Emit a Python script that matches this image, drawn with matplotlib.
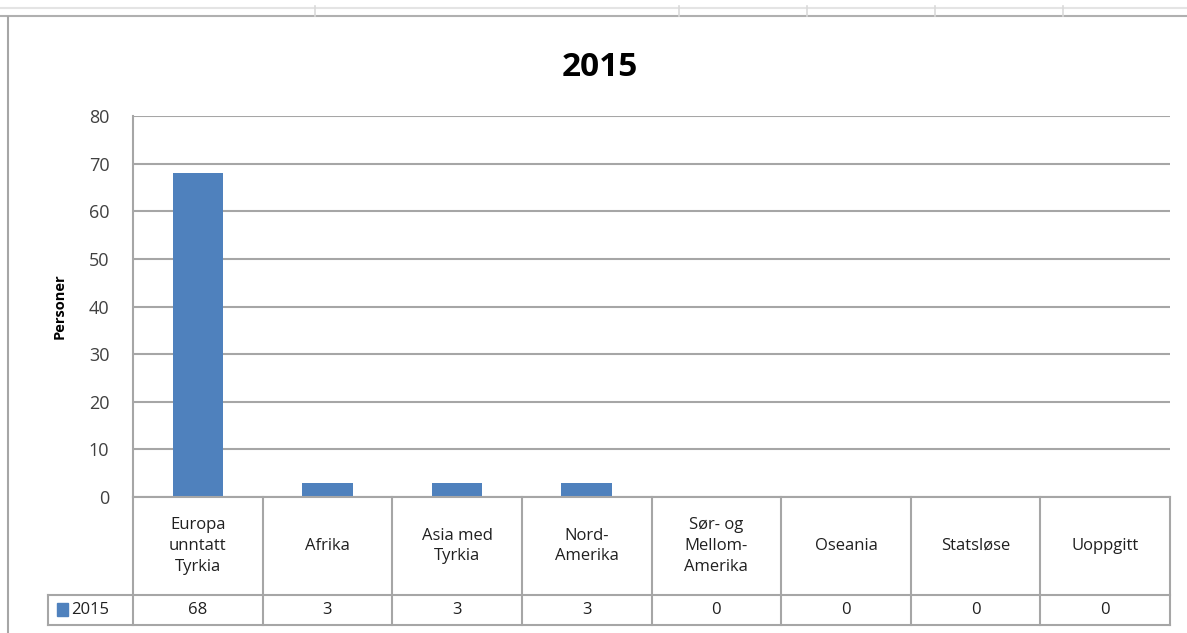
import matplotlib.pyplot as plt
from matplotlib.lines import Line2D

plt.rcParams['font.family'] = ['Open Sans', 'DejaVu Sans']

# data
categories = ['Europa\nunntatt\nTyrkia', 'Afrika', 'Asia med\nTyrkia', 'Nord-\nAmerika',
              'Sør- og\nMellom-\nAmerika', 'Oseania', 'Statsløse', 'Uoppgitt']
values = [68, 3, 3, 3, 0, 0, 0, 0]
series_name = '2015'
yticks = [0, 10, 20, 30, 40, 50, 60, 70, 80]

W, H = 1187, 633
bar_color = '#4F81BD'
grid_color = '#A6A6A6'

fig = plt.figure(figsize=(W / 100, H / 100), dpi=100)


def fx(px):
    return px / W


def fy(py):
    return 1 - py / H


# spreadsheet strip on top and chart border
fig.add_artist(Line2D([0, 1], [fy(8), fy(8)], color='#E4E4E4', lw=1.5))
fig.add_artist(Line2D([0, 1], [fy(16), fy(16)], color='#B0B0B0', lw=1.5))
for xv in [315, 679, 807, 935, 1063]:
    fig.add_artist(Line2D([fx(xv), fx(xv)], [fy(6), fy(16)], color='#DADADA', lw=1.2))
fig.add_artist(Line2D([fx(8), fx(8)], [fy(17), 0], color='#A6A6A6', lw=1.5))

# plot area
left, right, top, bottom = 133, 1170, 116, 497
ax = fig.add_axes([fx(left), fy(bottom), fx(right) - fx(left), fy(top) - fy(bottom)])
n = len(categories)
ax.bar(range(n), values, width=0.39, color=bar_color, zorder=3)
ax.set_xlim(-0.5, n - 0.5)
ax.set_ylim(0, 80)
ax.set_yticks(yticks)
ax.tick_params(axis='y', length=0, labelsize=13, colors='#404040', pad=17)
ax.set_xticks([])
ax.grid(axis='y', color=grid_color, lw=1.5, zorder=0)
for s in ['top', 'right', 'bottom']:
    ax.spines[s].set_visible(False)
ax.spines['left'].set_color(grid_color)
ax.spines['left'].set_linewidth(1.5)
ax.set_ylabel('Personer', fontsize=10.5, fontweight='bold', labelpad=16)
fig.text(fx(600), fy(68), '2015', fontsize=24, fontweight='bold', ha='center', va='center')

# data table below the axis
colw = (right - left) / n
hdr_bot = 595
row_bot = 625
lk = dict(color=grid_color, lw=1.5)
fig.add_artist(Line2D([fx(left), fx(right)], [fy(bottom), fy(bottom)], **lk))
fig.add_artist(Line2D([fx(48), fx(right)], [fy(hdr_bot), fy(hdr_bot)], **lk))
fig.add_artist(Line2D([fx(48), fx(right)], [fy(row_bot), fy(row_bot)], **lk))
fig.add_artist(Line2D([fx(48), fx(48)], [fy(hdr_bot), fy(row_bot)], **lk))
for i in range(n + 1):
    xv = left + i * colw
    fig.add_artist(Line2D([fx(xv), fx(xv)], [fy(bottom), fy(row_bot)], **lk))
for i, (cat, v) in enumerate(zip(categories, values)):
    xc = left + (i + 0.5) * colw
    fig.text(fx(xc), fy((bottom + hdr_bot) / 2), cat, fontsize=12, ha='center', va='center',
             linespacing=1.4, color='#202020')
    fig.text(fx(xc), fy((hdr_bot + row_bot) / 2), str(v), fontsize=12, ha='center', va='center',
             color='#202020')
fig.patches.append(plt.Rectangle((fx(57), fy(616)), fx(11), fy(603) - fy(616), color=bar_color,
                                 transform=fig.transFigure, figure=fig))
fig.text(fx(71), fy((hdr_bot + row_bot) / 2), series_name, fontsize=12, ha='left', va='center',
         color='#202020')

fig.savefig('out.png', dpi=100)
